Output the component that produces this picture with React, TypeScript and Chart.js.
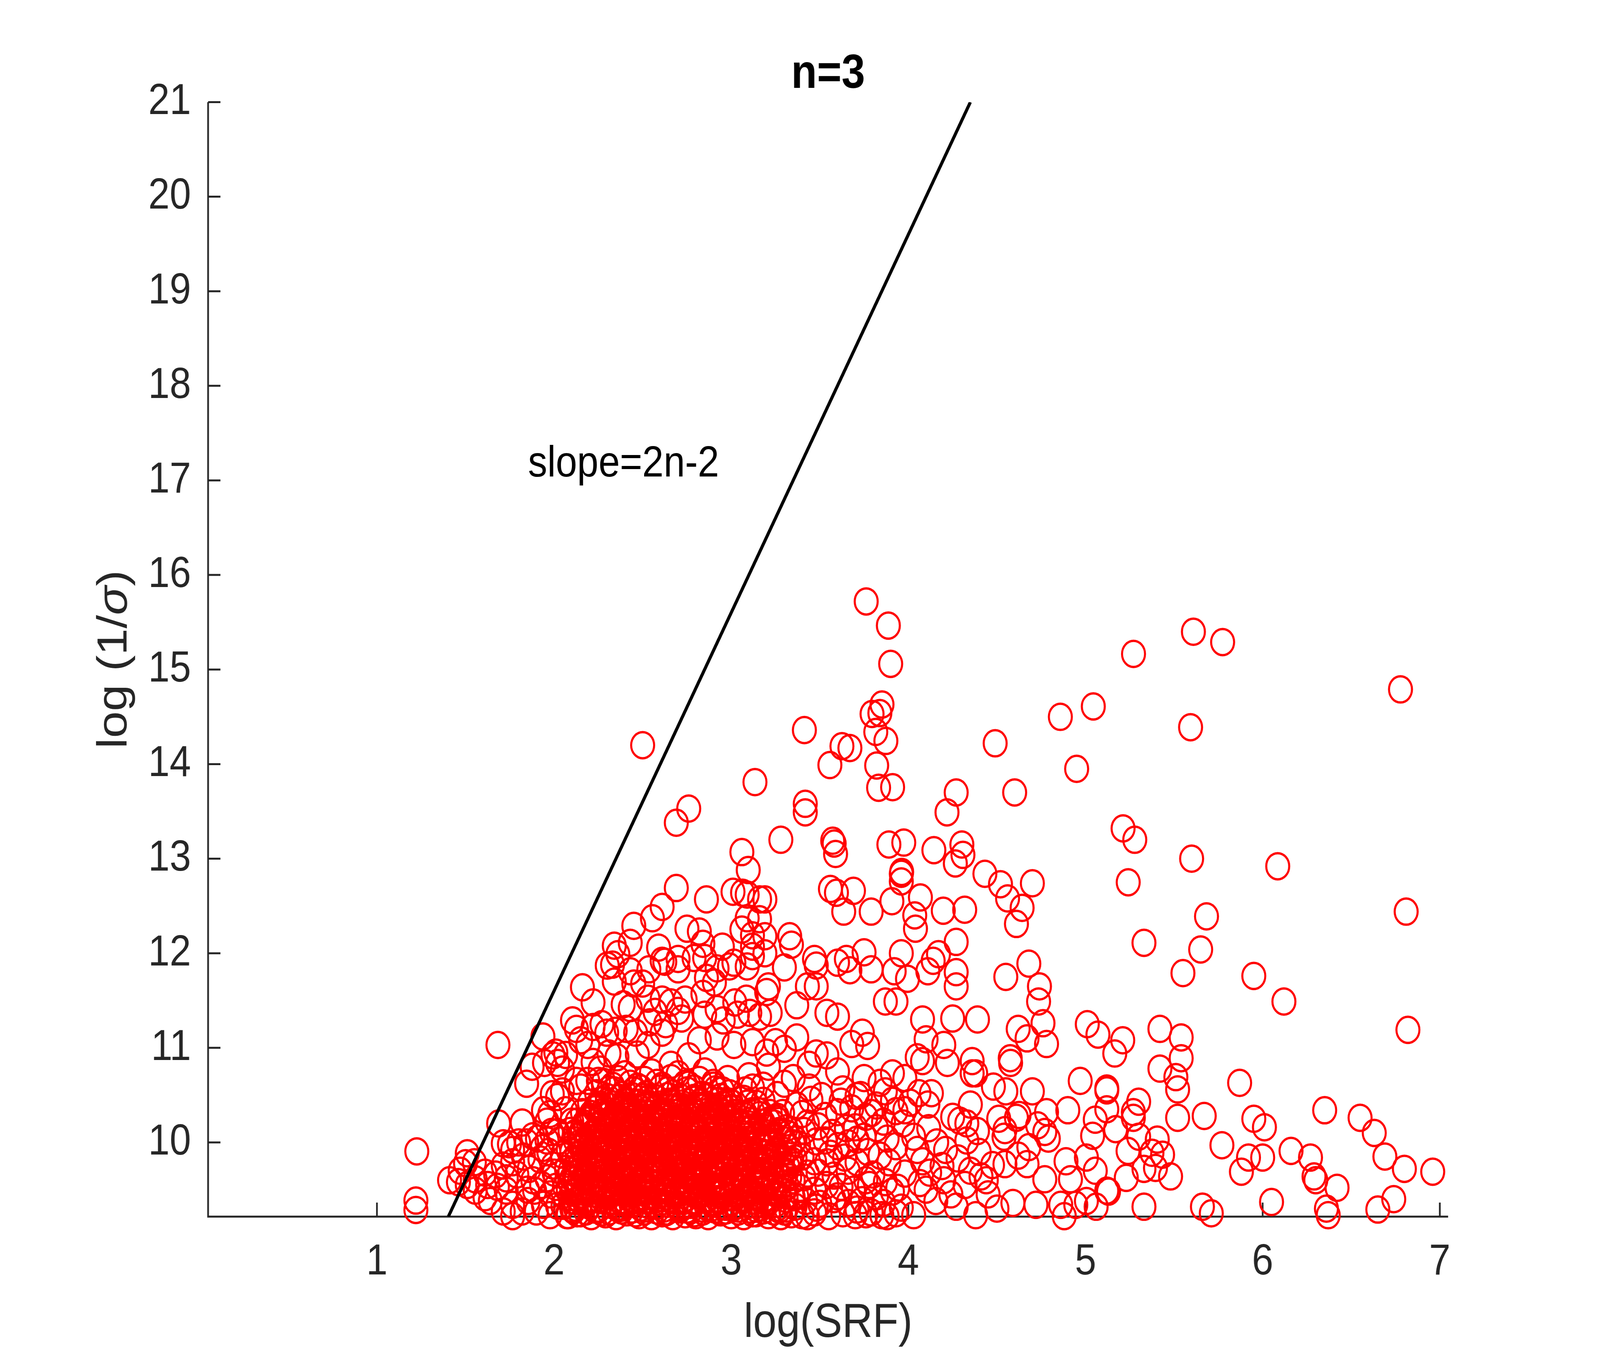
import { useEffect, useRef } from "react";
import Chart from "chart.js/auto";

type Pt = [number, number];

const xTicks = [1, 2, 3, 4, 5, 6, 7];
const yTicks = [10, 11, 12, 13, 14, 15, 16, 17, 18, 19, 20, 21];
const xMin = 0.047;
const xMax = 7.047;
const yMin = 9.215;
const yMax = 21;

// straight reference line, slope 2n-2 = 4
const slopeLine: Pt[] = [
  [1.403, 9.215],
  [4.35, 21],
];
const slopeText = "slope=2n-2";
const slopeTextAt: Pt = [1.853, 17.17];

// y label, the sigma is set in italic like MATLAB's TeX
const yLabelParts = [
  { text: "log (1/", italic: false },
  { text: "σ", italic: true },
  { text: ")", italic: false },
];

// sparse upper part of the cloud
const highPoints: Pt[] = [
  [3.762, 15.72], [3.887, 15.465], [3.9, 15.06], [3.851, 14.63], [3.795, 14.53], [3.839, 14.54],
  [3.816, 14.34], [3.873, 14.245], [3.413, 14.36], [3.625, 14.19], [3.67, 14.17], [3.557, 13.99],
  [3.821, 13.985], [3.832, 13.75], [3.911, 13.756], [3.134, 13.81], [4.49, 14.22], [4.858, 14.5],
  [5.044, 14.61], [4.95, 13.95], [4.27, 13.7], [4.218, 13.49], [4.6, 13.7], [3.28, 13.2],
  [3.418, 13.58], [3.418, 13.49], [3.573, 13.19], [3.581, 13.16], [3.589, 13.05], [3.89, 13.15],
  [3.974, 13.17], [4.144, 13.09], [4.302, 13.15], [4.308, 13.04], [4.265, 12.95], [4.432, 12.84],
  [4.52, 12.73], [4.7, 12.74], [4.642, 12.48], [4.56, 12.58], [4.318, 12.46], [4.197, 12.45],
  [3.907, 12.55], [3.962, 12.86], [3.96, 12.84], [3.96, 12.76], [4.068, 12.59], [3.56, 12.68],
  [3.594, 12.64], [3.69, 12.66], [3.79, 12.44], [3.635, 12.44], [4.036, 12.4],
  [5.609, 15.4], [5.774, 15.29], [5.271, 15.165], [6.778, 14.79], [5.593, 14.39], [5.212, 13.32],
  [5.278, 13.2], [5.599, 13.0], [6.085, 12.92], [5.241, 12.75], [5.683, 12.39], [6.81, 12.44],
  [2.5, 14.2],
];

// upper edge of the dense cluster, next to the line
const upperLeftPoints: Pt[] = [
  [2.76, 13.53], [2.69, 13.38], [3.06, 13.07], [3.096, 12.88], [2.69, 12.69], [2.86, 12.57],
  [2.61, 12.49], [2.555, 12.37], [3.01, 12.65], [3.064, 12.64], [3.09, 12.62], [3.16, 12.57],
  [3.19, 12.57], [3.09, 12.37], [3.16, 12.36], [3.06, 12.25], [3.12, 12.19], [3.19, 12.18],
  [3.19, 12.0], [3.12, 12.07], [3.09, 11.86], [3.21, 11.65], [2.45, 12.29], [2.43, 12.11],
  [2.34, 12.08], [2.36, 11.99], [2.5, 11.68], [2.535, 11.83], [2.59, 12.06], [2.61, 11.92],
  [2.625, 11.91], [2.7, 11.83], [2.7, 11.94], [2.75, 12.26], [2.82, 12.23], [2.84, 12.1],
  [2.79, 11.95], [2.85, 11.95], [2.95, 12.07], [2.92, 11.84], [2.99, 11.86], [3.015, 11.9],
  [3.12, 11.97], [2.86, 11.74], [2.84, 11.57], [2.905, 11.69], [3.02, 11.48], [3.085, 11.52],
  [3.2, 11.59], [2.53, 11.52], [2.61, 11.51], [2.66, 11.48], [2.74, 11.51], [2.7, 11.39],
  [2.57, 11.38], [2.54, 11.27], [2.63, 11.25], [2.61, 11.16], [2.72, 11.31], [2.85, 11.35],
  [2.92, 11.41], [2.955, 11.29], [3.035, 11.35], [3.105, 11.37], [3.16, 11.33], [3.22, 11.37],
  [2.53, 11.03], [2.82, 11.08], [2.92, 11.12], [3.015, 11.03], [3.12, 11.06], [3.2, 10.95],
  [2.76, 10.91], [2.66, 10.82], [2.47, 10.93],
];

// left end of the cloud, around and left of the line
const leftPoints: Pt[] = [
  [1.683, 11.03], [1.225, 9.905], [1.22, 9.385], [1.22, 9.285], [1.41, 9.6], [1.47, 9.7],
  [1.51, 9.885], [1.5, 9.78], [1.55, 9.79], [1.46, 9.58], [1.51, 9.55], [1.555, 9.61],
  [1.61, 9.68], [1.555, 9.49], [1.61, 9.42], [1.64, 9.38], [1.625, 9.55], [1.687, 10.2],
  [1.82, 10.21], [1.845, 10.62], [1.876, 10.8], [1.937, 11.12], [1.946, 10.84], [1.994, 10.92],
  [2.01, 10.95], [2.02, 10.84], [2.065, 10.925], [2.047, 10.77], [1.99, 10.51], [2.02, 10.48],
  [2.047, 10.54], [2.104, 11.29], [2.16, 11.64], [2.22, 11.48], [2.126, 11.2], [2.15, 11.08],
  [2.19, 11.03], [2.22, 11.22], [2.27, 11.25], [2.33, 11.88], [2.3, 11.87], [2.34, 11.7],
  [2.43, 11.81], [2.45, 11.68], [2.39, 11.46], [2.43, 11.42], [2.297, 11.16], [2.345, 11.18],
  [2.407, 11.2], [2.46, 11.16], [2.31, 10.94], [2.355, 10.9], [2.22, 10.85], [2.26, 10.77],
  [2.126, 10.65], [2.15, 10.58], [2.19, 10.65], [2.25, 10.65], [1.94, 10.34], [1.96, 10.22],
  [1.985, 10.11], [2.02, 10.11], [1.976, 10.3], [2.064, 10.34], [2.1, 10.22], [1.713, 9.99],
  [1.748, 9.98], [1.8, 10.0], [1.766, 9.92], [1.845, 10.0], [1.88, 10.065], [1.906, 10.04],
  [1.933, 9.94], [1.96, 10.02], [1.713, 9.755], [1.766, 9.79], [1.827, 9.85], [1.86, 9.72],
  [1.67, 9.66], [1.68, 9.53], [1.73, 9.62], [1.79, 9.66], [1.73, 9.49], [1.766, 9.34],
  [1.713, 9.27], [1.766, 9.22], [1.82, 9.27], [1.854, 9.38], [1.89, 9.49], [1.9, 9.27],
  [1.94, 9.34], [1.977, 9.23], [2.02, 9.33], [1.96, 9.62], [2.01, 9.53], [1.994, 9.755],
  [2.047, 9.87], [2.073, 9.62], [2.073, 9.23], [1.98, 9.45], [2.0, 9.68], [1.97, 9.9],
  [2.03, 10.02], [1.93, 9.55], [1.88, 9.6], [1.92, 9.82], [1.85, 9.5],
];

// between the core and x = 4
const midPoints: Pt[] = [
  [3.33, 12.18], [3.34, 12.09], [3.3, 11.85], [3.47, 11.94], [3.48, 11.87], [3.6, 11.9],
  [3.65, 11.94], [3.67, 11.82], [3.75, 12.01], [3.79, 11.83], [3.96, 12.0], [3.92, 11.81],
  [3.995, 11.73], [3.87, 11.49], [3.93, 11.49], [3.48, 11.65], [3.43, 11.65], [3.37, 11.45],
  [3.54, 11.37], [3.6, 11.33], [3.74, 11.16], [3.77, 11.02], [3.68, 11.04], [3.98, 10.68],
  [3.91, 10.73], [3.84, 10.63], [3.75, 10.68], [3.71, 10.49], [3.63, 10.56], [3.6, 10.75],
  [3.54, 10.92], [3.48, 10.94], [3.44, 10.82], [3.37, 11.11], [3.3, 10.99], [3.25, 11.06],
  [3.35, 10.68], [3.44, 10.58], [3.51, 10.49], [3.82, 10.39], [3.91, 10.44], [3.98, 10.34],
  [3.97, 10.2], [3.93, 9.96], [3.98, 9.67], [3.89, 9.79], [3.82, 10.15], [3.76, 10.27],
  [3.71, 10.03], [3.65, 10.15], [3.6, 10.32], [3.6, 9.96], [3.54, 9.79], [3.71, 9.79],
  [3.76, 9.6], [3.82, 9.43], [3.91, 9.48], [3.96, 9.31], [3.6, 9.43], [3.48, 9.31],
  [3.54, 9.55], [3.43, 9.67], [3.48, 10.01], [3.43, 10.2], [3.37, 10.39], [3.31, 10.15],
  [3.26, 10.27], [3.26, 9.91], [3.31, 9.67], [3.37, 9.43], [3.43, 9.22], [3.26, 9.31],
  [3.21, 9.55], [3.71, 9.29], [3.88, 9.22], [3.76, 9.24], [3.1, 10.7], [3.21, 10.8],
  [3.18, 10.6], [3.26, 10.5], [3.3, 10.62],
];

// x from 4 to 5.5, below 12.4
const rightLowPoints: Pt[] = [
  [4.04, 12.26], [4.61, 12.31], [4.27, 12.12], [4.17, 11.99], [4.14, 11.92], [4.11, 11.81],
  [4.27, 11.8], [4.27, 11.65], [5.33, 12.11], [4.68, 11.89], [4.55, 11.75], [4.74, 11.65],
  [4.735, 11.49], [5.55, 11.79], [4.08, 11.3], [4.25, 11.31], [4.39, 11.3], [4.62, 11.2],
  [4.76, 11.26], [4.67, 11.1], [4.78, 11.04], [5.01, 11.25], [5.07, 11.14], [5.21, 11.08],
  [5.165, 10.94], [5.42, 11.2], [5.54, 11.11], [5.54, 10.89], [5.42, 10.78], [5.51, 10.69],
  [5.52, 10.56], [5.52, 10.26], [4.1, 11.09], [4.2, 11.03], [4.05, 10.9], [4.08, 10.86],
  [4.22, 10.84], [4.36, 10.86], [4.36, 10.73], [4.38, 10.73], [4.575, 10.89], [4.577, 10.84],
  [4.48, 10.59], [4.55, 10.54], [4.7, 10.54], [4.97, 10.65], [5.12, 10.57], [5.12, 10.55],
  [5.12, 10.35], [5.3, 10.43], [5.27, 10.32], [5.27, 10.26], [4.06, 10.52], [4.13, 10.52],
  [4.11, 10.4], [4.01, 10.42], [4.35, 10.4], [4.25, 10.27], [4.29, 10.23], [4.33, 10.2],
  [4.39, 10.12], [4.115, 10.15], [4.03, 10.06], [4.51, 10.25], [4.545, 10.13], [4.61, 10.26],
  [4.625, 10.29], [4.54, 10.06], [4.73, 10.18], [4.77, 10.11], [4.79, 10.04], [4.78, 10.32],
  [4.9, 10.34], [4.68, 9.95], [5.055, 10.24], [5.04, 10.07], [5.17, 10.14], [5.24, 9.91],
  [5.3, 10.06], [5.405, 10.03], [5.375, 9.89], [5.435, 9.87], [5.33, 9.72], [5.395, 9.73],
  [5.48, 9.64], [5.23, 9.625], [5.33, 9.32], [4.89, 9.8], [5.005, 9.84], [5.055, 9.7],
  [5.12, 9.49], [4.915, 9.61], [4.77, 9.61], [4.72, 9.34], [4.62, 9.86], [4.67, 9.77],
  [4.545, 9.77], [4.475, 9.76], [4.59, 9.36], [4.5, 9.3], [4.41, 9.64], [4.35, 9.7],
  [4.21, 9.92], [4.19, 9.75], [4.05, 9.92], [4.065, 9.57], [4.155, 9.38], [4.27, 9.32],
  [4.38, 9.23], [4.88, 9.22], [5.005, 9.38], [5.06, 9.32], [5.13, 9.48], [4.86, 9.34],
  [4.945, 9.34], [4.03, 9.23], [4.1, 9.5], [4.24, 9.45], [4.32, 9.55], [4.12, 9.68],
  [4.28, 9.83], [4.4, 9.9], [4.08, 9.8], [4.2, 9.6], [4.45, 9.45], [4.16, 10.0],
  [4.33, 10.02], [4.44, 9.6],
];

// beyond x = 5.5
const farRightPoints: Pt[] = [
  [5.65, 12.04], [5.95, 11.76], [6.12, 11.49], [6.82, 11.19], [5.87, 10.63], [5.95, 10.25],
  [5.92, 9.84], [6.01, 10.16], [6.0, 9.84], [5.88, 9.69], [6.05, 9.37], [6.16, 9.91],
  [6.27, 9.84], [6.29, 9.64], [6.3, 9.6], [6.35, 10.34], [6.42, 9.52], [6.36, 9.3],
  [6.37, 9.23], [6.55, 10.26], [6.63, 10.1], [6.69, 9.85], [6.8, 9.72], [6.96, 9.69],
  [6.74, 9.4], [6.65, 9.29], [5.66, 9.32], [5.71, 9.25], [5.67, 10.28], [5.77, 9.97],
];

// saturated core, lower half
const coreLowPoints: Pt[] = [
  [2.08, 9.23], [2.15, 9.25], [2.21, 9.22], [2.29, 9.24], [2.35, 9.22], [2.41, 9.26], [2.48, 9.23],
  [2.55, 9.22], [2.61, 9.25], [2.67, 9.22], [2.74, 9.24], [2.8, 9.23], [2.87, 9.22], [2.94, 9.26],
  [3.0, 9.23], [3.07, 9.22], [3.14, 9.25], [3.21, 9.23], [3.28, 9.22], [3.34, 9.24],
  [2.05, 9.33], [2.12, 9.31], [2.18, 9.35], [2.25, 9.3], [2.32, 9.34], [2.38, 9.31], [2.45, 9.36],
  [2.51, 9.3], [2.58, 9.33], [2.64, 9.35], [2.71, 9.31], [2.77, 9.34], [2.84, 9.3], [2.9, 9.35],
  [2.97, 9.32], [3.04, 9.3], [3.1, 9.34], [3.17, 9.31], [3.25, 9.35], [3.31, 9.3],
  [2.09, 9.42], [2.16, 9.45], [2.22, 9.4], [2.28, 9.44], [2.35, 9.41], [2.42, 9.46], [2.48, 9.4],
  [2.54, 9.43], [2.61, 9.41], [2.67, 9.45], [2.73, 9.4], [2.8, 9.44], [2.86, 9.41], [2.93, 9.46],
  [2.99, 9.42], [3.06, 9.4], [3.13, 9.44], [3.19, 9.41], [3.27, 9.45], [3.35, 9.42],
  [2.06, 9.53], [2.13, 9.5], [2.19, 9.55], [2.26, 9.52], [2.32, 9.56], [2.39, 9.5], [2.45, 9.54],
  [2.52, 9.51], [2.58, 9.56], [2.64, 9.52], [2.7, 9.5], [2.77, 9.55], [2.83, 9.51], [2.9, 9.54],
  [2.96, 9.5], [3.03, 9.56], [3.1, 9.52], [3.16, 9.5], [3.23, 9.54], [3.3, 9.51],
  [2.1, 9.62], [2.17, 9.65], [2.23, 9.6], [2.3, 9.64], [2.36, 9.61], [2.43, 9.66], [2.49, 9.6],
  [2.55, 9.63], [2.62, 9.61], [2.68, 9.65], [2.75, 9.6], [2.81, 9.64], [2.88, 9.62], [2.94, 9.66],
  [3.01, 9.6], [3.07, 9.63], [3.14, 9.61], [3.2, 9.65], [3.28, 9.62], [3.35, 9.6],
  [2.07, 9.72], [2.14, 9.75], [2.2, 9.7], [2.27, 9.74], [2.33, 9.71], [2.4, 9.76], [2.46, 9.7],
  [2.53, 9.73], [2.59, 9.71], [2.66, 9.75], [2.72, 9.7], [2.79, 9.74], [2.85, 9.72], [2.92, 9.76],
  [2.98, 9.7], [3.05, 9.73], [3.11, 9.71], [3.18, 9.75], [3.25, 9.7], [3.32, 9.74],
  [2.11, 9.82], [2.18, 9.85], [2.24, 9.8], [2.31, 9.84], [2.37, 9.81], [2.44, 9.86], [2.5, 9.8],
  [2.57, 9.83], [2.63, 9.81], [2.7, 9.85], [2.76, 9.8], [2.83, 9.84], [2.89, 9.82], [2.96, 9.86],
  [3.02, 9.8], [3.09, 9.83], [3.15, 9.81], [3.22, 9.85], [3.29, 9.8], [3.36, 9.83],
  [2.08, 9.92], [2.15, 9.95], [2.21, 9.9], [2.28, 9.94], [2.34, 9.91], [2.41, 9.96], [2.47, 9.9],
  [2.54, 9.93], [2.6, 9.91], [2.67, 9.95], [2.73, 9.9], [2.8, 9.94], [2.86, 9.92], [2.93, 9.96],
  [2.99, 9.9], [3.06, 9.93], [3.12, 9.91], [3.19, 9.95], [3.26, 9.9], [3.33, 9.94],
];

// saturated core, upper half
const coreHighPoints: Pt[] = [
  [2.12, 10.02], [2.19, 10.05], [2.25, 10.0], [2.32, 10.04], [2.38, 10.01], [2.45, 10.06],
  [2.51, 10.0], [2.58, 10.03], [2.64, 10.01], [2.71, 10.05], [2.77, 10.0], [2.84, 10.04],
  [2.9, 10.02], [2.97, 10.06], [3.03, 10.0], [3.1, 10.03], [3.16, 10.01], [3.23, 10.05], [3.3, 10.02],
  [2.09, 10.12], [2.16, 10.15], [2.22, 10.1], [2.29, 10.14], [2.35, 10.11], [2.42, 10.16],
  [2.48, 10.1], [2.55, 10.13], [2.61, 10.11], [2.68, 10.15], [2.74, 10.1], [2.81, 10.14],
  [2.87, 10.12], [2.94, 10.16], [3.0, 10.1], [3.07, 10.13], [3.13, 10.11], [3.2, 10.15],
  [3.27, 10.1], [3.34, 10.13],
  [2.13, 10.22], [2.2, 10.25], [2.26, 10.2], [2.33, 10.24], [2.39, 10.21], [2.46, 10.26],
  [2.52, 10.2], [2.59, 10.23], [2.65, 10.21], [2.72, 10.25], [2.78, 10.2], [2.85, 10.24],
  [2.91, 10.22], [2.98, 10.26], [3.04, 10.2], [3.11, 10.23], [3.18, 10.21], [3.25, 10.25],
  [2.16, 10.32], [2.23, 10.35], [2.29, 10.3], [2.36, 10.34], [2.42, 10.31], [2.49, 10.36],
  [2.55, 10.3], [2.62, 10.33], [2.68, 10.31], [2.75, 10.35], [2.81, 10.3], [2.88, 10.34],
  [2.94, 10.32], [3.01, 10.36], [3.08, 10.3], [3.15, 10.33], [3.22, 10.31],
  [2.2, 10.42], [2.27, 10.45], [2.33, 10.4], [2.4, 10.44], [2.46, 10.41], [2.53, 10.46],
  [2.59, 10.4], [2.66, 10.43], [2.72, 10.41], [2.79, 10.45], [2.86, 10.4], [2.93, 10.44],
  [3.0, 10.42], [3.07, 10.46], [3.14, 10.41],
  [2.24, 10.52], [2.31, 10.56], [2.38, 10.5], [2.45, 10.55], [2.52, 10.51], [2.6, 10.57],
  [2.67, 10.52], [2.75, 10.55], [2.83, 10.5], [2.91, 10.56], [2.99, 10.52], [3.08, 10.55],
  [2.28, 10.64], [2.36, 10.67], [2.43, 10.62], [2.51, 10.66], [2.58, 10.63], [2.66, 10.68],
  [2.74, 10.62], [2.82, 10.66], [2.9, 10.63], [2.98, 10.67],
];

// overlapping circles that fill the gaps of the core
const coreFillPoints: Pt[] = [
  [2.11, 9.28], [2.18, 9.27], [2.25, 9.29], [2.31, 9.27], [2.38, 9.28], [2.44, 9.29], [2.51, 9.27],
  [2.58, 9.28], [2.64, 9.27], [2.71, 9.29], [2.77, 9.28], [2.84, 9.27], [2.91, 9.29], [2.97, 9.28],
  [3.04, 9.27], [3.11, 9.29], [3.18, 9.28], [3.24, 9.27],
  [2.12, 9.38], [2.19, 9.37], [2.26, 9.39], [2.33, 9.38], [2.4, 9.37], [2.46, 9.39], [2.53, 9.38],
  [2.6, 9.37], [2.66, 9.39], [2.73, 9.38], [2.79, 9.37], [2.86, 9.39], [2.93, 9.38], [3.0, 9.37],
  [3.07, 9.39], [3.14, 9.38], [3.21, 9.37],
  [2.1, 9.47], [2.16, 9.48], [2.23, 9.46], [2.3, 9.47], [2.36, 9.48], [2.43, 9.46], [2.5, 9.47],
  [2.57, 9.48], [2.63, 9.46], [2.7, 9.47], [2.76, 9.48], [2.83, 9.46], [2.9, 9.47], [2.96, 9.48],
  [3.03, 9.46], [3.1, 9.47], [3.17, 9.48], [3.25, 9.46],
  [2.14, 9.57], [2.21, 9.58], [2.28, 9.56], [2.35, 9.57], [2.41, 9.58], [2.48, 9.56], [2.55, 9.57],
  [2.61, 9.58], [2.68, 9.56], [2.74, 9.57], [2.81, 9.58], [2.88, 9.56], [2.94, 9.57], [3.01, 9.58],
  [3.08, 9.56], [3.15, 9.57], [3.22, 9.58],
  [2.12, 9.67], [2.18, 9.68], [2.25, 9.66], [2.32, 9.67], [2.38, 9.68], [2.45, 9.66], [2.52, 9.67],
  [2.58, 9.68], [2.65, 9.66], [2.71, 9.67], [2.78, 9.68], [2.85, 9.66], [2.91, 9.67], [2.98, 9.68],
  [3.05, 9.66], [3.12, 9.67], [3.19, 9.68], [3.26, 9.66],
  [2.15, 9.77], [2.22, 9.78], [2.29, 9.76], [2.35, 9.77], [2.42, 9.78], [2.49, 9.76], [2.55, 9.77],
  [2.62, 9.78], [2.69, 9.76], [2.75, 9.77], [2.82, 9.78], [2.88, 9.76], [2.95, 9.77], [3.02, 9.78],
  [3.09, 9.76], [3.16, 9.77], [3.23, 9.78],
  [2.13, 9.87], [2.2, 9.88], [2.27, 9.86], [2.33, 9.87], [2.4, 9.88], [2.47, 9.86], [2.53, 9.87],
  [2.6, 9.88], [2.66, 9.86], [2.73, 9.87], [2.8, 9.88], [2.86, 9.86], [2.93, 9.87], [3.0, 9.88],
  [3.07, 9.86], [3.13, 9.87], [3.2, 9.88],
  [2.16, 9.97], [2.23, 9.98], [2.3, 9.96], [2.36, 9.97], [2.43, 9.98], [2.5, 9.96], [2.56, 9.97],
  [2.63, 9.98], [2.7, 9.96], [2.76, 9.97], [2.83, 9.98], [2.9, 9.96], [2.96, 9.97], [3.03, 9.98],
  [3.1, 9.96], [3.17, 9.97], [3.24, 9.98],
  [2.14, 10.07], [2.21, 10.08], [2.28, 10.06], [2.35, 10.07], [2.41, 10.08], [2.48, 10.06],
  [2.55, 10.07], [2.61, 10.08], [2.68, 10.06], [2.75, 10.07], [2.81, 10.08], [2.88, 10.06],
  [2.95, 10.07], [3.01, 10.08], [3.08, 10.06], [3.15, 10.07],
  [2.18, 10.17], [2.25, 10.18], [2.31, 10.16], [2.38, 10.17], [2.45, 10.18], [2.51, 10.16],
  [2.58, 10.17], [2.65, 10.18], [2.71, 10.16], [2.78, 10.17], [2.84, 10.18], [2.91, 10.16],
  [2.98, 10.17], [3.05, 10.18], [3.12, 10.16],
  [2.2, 10.27], [2.27, 10.28], [2.33, 10.26], [2.4, 10.27], [2.47, 10.28], [2.53, 10.26],
  [2.6, 10.27], [2.67, 10.28], [2.73, 10.26], [2.8, 10.27], [2.87, 10.28], [2.93, 10.26],
  [3.0, 10.27], [3.07, 10.28],
  [2.24, 10.37], [2.31, 10.38], [2.38, 10.36], [2.45, 10.37], [2.51, 10.38], [2.58, 10.36],
  [2.65, 10.37], [2.72, 10.38], [2.78, 10.36], [2.85, 10.37], [2.92, 10.38], [2.99, 10.36],
  [2.3, 10.48], [2.37, 10.47], [2.44, 10.49], [2.5, 10.48], [2.57, 10.47], [2.64, 10.49],
  [2.71, 10.48], [2.79, 10.47], [2.86, 10.49], [2.94, 10.48],
];

// more hidden circles inside the saturated block
const coreExtraPoints: Pt[] = [
  [2.13, 9.25], [2.27, 9.26], [2.46, 9.25], [2.63, 9.26], [2.79, 9.25], [2.95, 9.27], [3.12, 9.25], [3.3, 9.27],
  [2.2, 9.33], [2.36, 9.32], [2.53, 9.34], [2.69, 9.33], [2.86, 9.32], [3.02, 9.33], [3.19, 9.34], [3.36, 9.32],
  [2.15, 9.43], [2.31, 9.44], [2.47, 9.42], [2.64, 9.43], [2.82, 9.44], [2.97, 9.42], [3.15, 9.43], [3.31, 9.44],
  [2.21, 9.52], [2.37, 9.53], [2.55, 9.52], [2.72, 9.53], [2.88, 9.52], [3.05, 9.53], [3.2, 9.52],
  [2.16, 9.62], [2.34, 9.61], [2.5, 9.62], [2.67, 9.61], [2.84, 9.62], [3.0, 9.61], [3.17, 9.62], [3.33, 9.63],
  [2.23, 9.72], [2.39, 9.73], [2.56, 9.72], [2.73, 9.73], [2.9, 9.72], [3.07, 9.73], [3.23, 9.72],
  [2.17, 9.82], [2.34, 9.81], [2.51, 9.82], [2.68, 9.81], [2.85, 9.82], [3.01, 9.81], [3.18, 9.82], [3.34, 9.81],
  [2.24, 9.92], [2.41, 9.93], [2.58, 9.92], [2.75, 9.93], [2.91, 9.92], [3.08, 9.93], [3.25, 9.92],
  [2.18, 10.02], [2.35, 10.03], [2.52, 10.02], [2.69, 10.03], [2.86, 10.02], [3.03, 10.03], [3.2, 10.02], [3.36, 10.03],
  [2.25, 10.12], [2.42, 10.13], [2.59, 10.12], [2.76, 10.13], [2.93, 10.12], [3.1, 10.13], [3.27, 10.12],
  [2.19, 10.23], [2.36, 10.22], [2.53, 10.23], [2.7, 10.22], [2.87, 10.23], [3.04, 10.22], [3.21, 10.23],
  [2.27, 10.32], [2.44, 10.33], [2.61, 10.32], [2.78, 10.33], [2.95, 10.32], [3.12, 10.33], [3.29, 10.31],
  [2.3, 10.43], [2.48, 10.42], [2.65, 10.43], [2.82, 10.42], [2.99, 10.43], [3.18, 10.44],
  [2.34, 10.55], [2.49, 10.57], [2.64, 10.55], [2.79, 10.57], [2.95, 10.55], [3.12, 10.58],
];

// deepest layer of the saturated block
const coreDeepPoints: Pt[] = [
  [2.1, 9.3], [2.23, 9.29], [2.36, 9.3], [2.49, 9.31], [2.62, 9.3], [2.75, 9.29], [2.88, 9.3], [3.01, 9.31], [3.14, 9.3], [3.27, 9.29],
  [2.14, 9.4], [2.27, 9.41], [2.4, 9.39], [2.53, 9.4], [2.66, 9.41], [2.79, 9.39], [2.92, 9.4], [3.05, 9.41], [3.18, 9.39], [3.31, 9.4],
  [2.08, 9.5], [2.22, 9.49], [2.35, 9.5], [2.48, 9.51], [2.61, 9.49], [2.74, 9.5], [2.87, 9.51], [3.0, 9.49], [3.13, 9.5], [3.27, 9.51],
  [2.12, 9.6], [2.26, 9.59], [2.39, 9.6], [2.52, 9.61], [2.65, 9.59], [2.78, 9.6], [2.91, 9.61], [3.04, 9.59], [3.17, 9.6], [3.3, 9.61],
  [2.09, 9.7], [2.22, 9.69], [2.36, 9.7], [2.49, 9.71], [2.62, 9.69], [2.76, 9.7], [2.89, 9.71], [3.02, 9.69], [3.15, 9.7], [3.29, 9.71],
  [2.13, 9.8], [2.27, 9.79], [2.4, 9.8], [2.54, 9.81], [2.67, 9.79], [2.8, 9.8], [2.93, 9.81], [3.06, 9.79], [3.2, 9.8], [3.33, 9.79],
  [2.1, 9.9], [2.24, 9.89], [2.37, 9.9], [2.5, 9.91], [2.64, 9.89], [2.77, 9.9], [2.9, 9.91], [3.04, 9.89], [3.17, 9.9], [3.3, 9.91],
  [2.15, 10.0], [2.28, 9.99], [2.42, 10.0], [2.55, 10.01], [2.68, 9.99], [2.81, 10.0], [2.95, 10.01], [3.08, 9.99], [3.22, 10.0], [3.35, 9.99],
  [2.12, 10.1], [2.26, 10.09], [2.39, 10.1], [2.52, 10.11], [2.66, 10.09], [2.79, 10.1], [2.92, 10.11], [3.06, 10.09], [3.19, 10.1], [3.32, 10.09],
  [2.17, 10.2], [2.3, 10.19], [2.44, 10.2], [2.57, 10.21], [2.7, 10.19], [2.84, 10.2], [2.97, 10.21], [3.1, 10.19], [3.24, 10.2],
  [2.21, 10.3], [2.35, 10.29], [2.48, 10.3], [2.61, 10.31], [2.75, 10.29], [2.88, 10.3], [3.02, 10.31], [3.16, 10.29],
  [2.26, 10.4], [2.4, 10.39], [2.53, 10.4], [2.67, 10.41], [2.81, 10.39], [2.95, 10.4], [3.09, 10.41],
  [2.33, 10.6], [2.47, 10.59], [2.61, 10.6], [2.76, 10.61], [2.9, 10.6],
  [2.4, 10.72], [2.55, 10.74], [2.7, 10.72], [2.85, 10.75],
];

// right flank of the core, x 3.4 - 3.95
const coreRightPoints: Pt[] = [
  [3.4, 9.23], [3.47, 9.26], [3.55, 9.22], [3.63, 9.25], [3.7, 9.23], [3.79, 9.26], [3.85, 9.23],
  [3.93, 9.25], [3.42, 9.38], [3.5, 9.35], [3.58, 9.4], [3.66, 9.36], [3.74, 9.39], [3.86, 9.36],
  [3.39, 9.52], [3.47, 9.49], [3.62, 9.53], [3.69, 9.5], [3.78, 9.55], [3.87, 9.58], [3.94, 9.52],
  [3.41, 9.63], [3.49, 9.68], [3.58, 9.65], [3.66, 9.7], [3.8, 9.66], [3.4, 9.85], [3.47, 9.8],
  [3.56, 9.88], [3.64, 9.84], [3.77, 9.9], [3.84, 9.86], [3.38, 9.98], [3.53, 10.02], [3.66, 9.99],
  [3.75, 10.06], [3.88, 10.04], [3.41, 10.12], [3.49, 10.17], [3.57, 10.1], [3.7, 10.16],
  [3.86, 10.22], [3.4, 10.3], [3.53, 10.28], [3.68, 10.36], [3.79, 10.31], [3.93, 10.33],
  [3.45, 10.45], [3.62, 10.43], [3.73, 10.5], [3.87, 10.54],
];

const circlePoints: Pt[] = [
  ...coreLowPoints,
  ...coreHighPoints,
  ...coreFillPoints,
  ...coreExtraPoints,
  ...coreDeepPoints,
  ...coreRightPoints,
  ...leftPoints,
  ...upperLeftPoints,
  ...midPoints,
  ...rightLowPoints,
  ...farRightPoints,
  ...highPoints,
];

const INK = "#262626";
const FONT = '"Liberation Sans", Arial, Helvetica, sans-serif';

// the figure is drawn at its own 4667 x 3500 size, then fitted to the window
const FIG_W = 4667;
const FIG_H = 3500;

// MATLAB style axes: left and bottom lines only, ticks pointing inward
const matlabAxes = {
  id: "matlabAxes",
  beforeDatasetsDraw(chart: any) {
    const { ctx, chartArea } = chart;
    const { left, right, top, bottom } = chartArea;
    const xs = chart.scales.x;
    const ys = chart.scales.y;
    ctx.save();
    ctx.strokeStyle = INK;
    ctx.lineWidth = 5;
    ctx.beginPath();
    ctx.moveTo(left, top);
    ctx.lineTo(left, bottom);
    ctx.lineTo(right, bottom);
    xTicks.forEach((v) => {
      const px = xs.getPixelForValue(v);
      ctx.moveTo(px, bottom);
      ctx.lineTo(px, bottom - 36);
    });
    yTicks.forEach((v) => {
      const py = ys.getPixelForValue(v);
      ctx.moveTo(left, py);
      ctx.lineTo(left + 36, py);
    });
    ctx.stroke();

    // rotated y label, centred on the axis
    const normal = `123px ${FONT}`;
    const italic = `italic 123px ${FONT}`;
    const widths = yLabelParts.map((p) => {
      ctx.font = p.italic ? italic : normal;
      return ctx.measureText(p.text).width;
    });
    const total = widths.reduce((a, b) => a + b, 0);
    ctx.translate(335.5, (top + bottom) / 2);
    ctx.rotate(-Math.PI / 2);
    ctx.fillStyle = INK;
    ctx.textAlign = "left";
    ctx.textBaseline = "middle";
    let cx = -total / 2;
    yLabelParts.forEach((p, i) => {
      ctx.font = p.italic ? italic : normal;
      ctx.fillText(p.text, cx, 0);
      cx += widths[i];
    });
    ctx.restore();
  },
  afterDatasetsDraw(chart: any) {
    const { ctx } = chart;
    ctx.save();
    ctx.fillStyle = "#000000";
    ctx.font = `112px ${FONT}`;
    ctx.textAlign = "left";
    ctx.textBaseline = "middle";
    ctx.fillText(
      slopeText,
      chart.scales.x.getPixelForValue(slopeTextAt[0]),
      chart.scales.y.getPixelForValue(slopeTextAt[1])
    );
    ctx.restore();
  },
};

export default function App() {
  const boxRef = useRef<HTMLDivElement | null>(null);
  const canvasRef = useRef<HTMLCanvasElement | null>(null);
  const chartRef = useRef<Chart | null>(null);

  useEffect(() => {
    const canvas = canvasRef.current;
    const box = boxRef.current;
    if (!canvas || !box) return;

    if (chartRef.current) {
      chartRef.current.destroy();
      chartRef.current = null;
    }

    chartRef.current = new Chart(canvas, {
      type: "scatter",
      data: {
        datasets: [
          {
            label: "slope",
            data: slopeLine.map(([x, y]) => ({ x, y })),
            showLine: true,
            borderColor: "#000000",
            borderWidth: 9,
            pointRadius: 0,
            order: 0,
          },
          {
            label: "points",
            data: circlePoints.map(([x, y]) => ({ x, y })),
            pointStyle: "circle",
            pointRadius: 33.5,
            pointHoverRadius: 33.5,
            borderWidth: 6,
            borderColor: "#ff0000",
            backgroundColor: "rgba(0,0,0,0)",
            clip: false,
            order: 1,
          },
        ],
      },
      options: {
        responsive: false,
        devicePixelRatio: 1,
        animation: false,
        events: [],
        layout: { padding: { left: 0, right: 443, top: 0, bottom: 0 } },
        plugins: {
          legend: { display: false },
          tooltip: { enabled: false },
          title: {
            display: true,
            text: "n=3",
            color: "#000000",
            fullSize: false,
            font: { family: FONT, size: 123, weight: "bold", lineHeight: 1.15 },
            padding: { top: 120, bottom: 0 },
          },
        },
        scales: {
          x: {
            type: "linear",
            min: xMin,
            max: xMax,
            afterBuildTicks: (s: any) => {
              s.ticks = xTicks.map((v) => ({ value: v }));
            },
            afterFit: (s: any) => {
              s.height = 385;
            },
            grid: { display: false, drawTicks: false },
            border: { display: false },
            ticks: {
              color: INK,
              font: { family: FONT, size: 112 },
              padding: 50,
              maxRotation: 0,
              autoSkip: false,
            },
            title: {
              display: true,
              text: "log(SRF)",
              color: INK,
              font: { family: FONT, size: 123 },
              padding: { top: 0, bottom: 37 },
            },
          },
          y: {
            type: "linear",
            min: yMin,
            max: yMax,
            afterBuildTicks: (s: any) => {
              s.ticks = yTicks.map((v) => ({ value: v }));
            },
            afterFit: (s: any) => {
              s.width = 607;
            },
            grid: { display: false, drawTicks: false },
            border: { display: false },
            ticks: {
              color: INK,
              font: { family: FONT, size: 112 },
              padding: 50,
              autoSkip: false,
            },
            title: { display: false },
          },
        },
      },
      plugins: [matlabAxes],
    });

    // stretch the finished figure onto whatever the window really is
    const sx = (box.clientWidth || FIG_W) / FIG_W;
    const sy = (box.clientHeight || FIG_H) / FIG_H;
    canvas.style.transformOrigin = "0 0";
    canvas.style.transform = `scale(${sx}, ${sy})`;

    return () => {
      if (chartRef.current) {
        chartRef.current.destroy();
        chartRef.current = null;
      }
    };
  }, []);

  return (
    <div
      ref={boxRef}
      style={{
        position: "fixed",
        left: 0,
        top: 0,
        right: 0,
        bottom: 0,
        overflow: "hidden",
        background: "#ffffff",
      }}
    >
      <canvas ref={canvasRef} width={FIG_W} height={FIG_H} style={{ display: "block" }} />
    </div>
  );
}
